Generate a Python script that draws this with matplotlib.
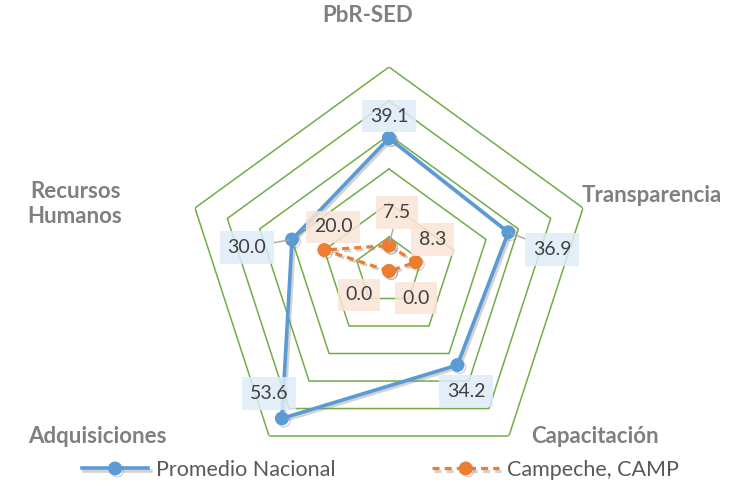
import numpy as np
import matplotlib
matplotlib.use("Agg")
import matplotlib.pyplot as plt
import matplotlib.patheffects as pe

plt.rcParams['font.family'] = ['Lato', 'DejaVu Sans']

# categories, clockwise from the top
categorias = ['PbR-SED', 'Transparencia', 'Capacitación', 'Adquisiciones', 'Recursos\nHumanos']
promedio_nacional = [39.1, 36.9, 34.2, 53.6, 30.0]
campeche = [7.5, 8.3, 0.0, 0.0, 20.0]
niveles = [10, 20, 30, 40, 50, 60]

azul = '#5B9BD5'
naranja = '#ED7D31'
verde = '#70AD47'

fig = plt.figure(figsize=(7.31, 4.90), dpi=100)
ax = fig.add_axes([(389 - 204) / 731, (490 - 271 - 204) / 490, 408 / 731, 408 / 490],
                  projection='polar')
ax.set_theta_offset(np.pi / 2)
ax.set_theta_direction(-1)
ax.set_ylim(0, 60)
ax.grid(False)
ax.spines['polar'].set_visible(False)
ax.set_xticks([])
ax.set_yticks([])
ax.patch.set_alpha(0)

ang = np.linspace(0, 2 * np.pi, len(categorias), endpoint=False)
ang_c = np.append(ang, ang[0])

# pentagon grid
for n in niveles:
    ax.plot(ang_c, [n] * len(ang_c), color=verde, lw=1.1, zorder=1)

sombra = [pe.SimpleLineShadow(offset=(1.5, -1.5), alpha=0.35, shadow_color='gray'), pe.Normal()]

l1, = ax.plot(ang_c, promedio_nacional + promedio_nacional[:1], color=azul, lw=2.6,
              marker='o', ms=9, zorder=3, path_effects=sombra, label='Promedio Nacional')
l2, = ax.plot(ang_c, campeche + campeche[:1], color=naranja, lw=2.3, ls=(0, (2.2, 1.6)),
              marker='o', ms=9, zorder=4, path_effects=sombra, label='Campeche, CAMP')

# data labels (offsets in pixels, leader line or not)
off_azul = [(0, 22, False), (44, -17, True), (9, -26, False), (-13, 25, False), (-45, -8, True)]
off_naranja = [(8, 33, True), (17, 23, False), (27, -27, False), (-30, -24, False), (9, 23, False)]

def etiquetas(vals, offs, fondo):
    for a, v, (dx, dy, linea) in zip(ang, vals, offs):
        kw = {}
        if linea:
            kw['arrowprops'] = dict(arrowstyle='-', color='#A6A6A6', lw=1, shrinkA=0, shrinkB=2)
        ax.annotate(f'{v:.1f}', xy=(a, v), xytext=(dx, dy), textcoords='offset pixels',
                    ha='center', va='center', fontsize=14, color='#404040', zorder=6,
                    bbox=dict(boxstyle='square,pad=0.4', fc=fondo, ec='none', alpha=0.85),
                    annotation_clip=False, **kw)

etiquetas(promedio_nacional, off_azul, '#DEEBF7')
etiquetas(campeche, off_naranja, '#FBE5D6')

# category labels
pos_cat = [(368, 16), (652, 195), (595, 436), (97, 436), (75, 204)]
for c, (px, py) in zip(categorias, pos_cat):
    fig.text(px / 731, 1 - py / 490, c, ha='center', va='center', fontsize=16,
             fontweight='bold', color='#7F7F7F', linespacing=1.2)

fig.legend(handles=[l1, l2], loc='center', bbox_to_anchor=(0.52, 1 - 470 / 490), ncol=2,
           frameon=False, fontsize=15.5, handlelength=3.1, handletextpad=0.35,
           columnspacing=4.5, labelcolor='#595959')

fig.savefig('out.png', dpi=100)
